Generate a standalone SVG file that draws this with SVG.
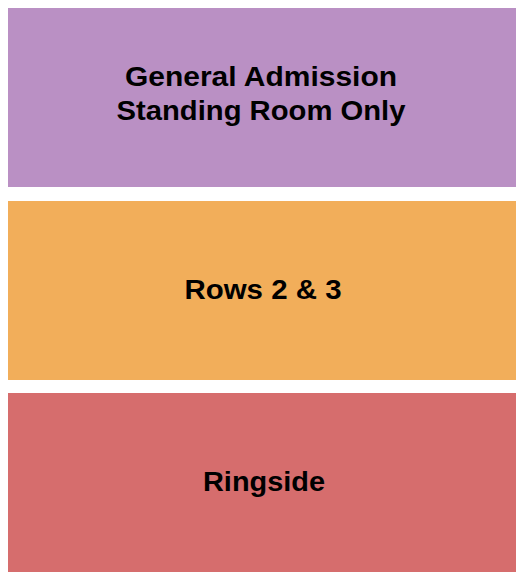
<svg xmlns="http://www.w3.org/2000/svg" width="525" height="580" viewBox="0 0 525 580">
<style>
.lbl{font-family:"Liberation Sans",Arial,sans-serif;font-weight:bold;font-size:27.5px;fill:#000;text-anchor:middle}
</style>
<rect width="525" height="580" fill="#fff"/>
<g id="ga">
<rect x="8" y="8" width="508" height="179" fill="#BA90C4"/>
<text class="lbl" x="261" y="86" textLength="272" lengthAdjust="spacingAndGlyphs">General Admission</text>
<text class="lbl" x="261" y="120" textLength="289" lengthAdjust="spacingAndGlyphs">Standing Room Only</text>
</g>
<g id="rows">
<rect x="8" y="201" width="508" height="179" fill="#F2AE5A"/>
<text class="lbl" x="263" y="299" textLength="157" lengthAdjust="spacingAndGlyphs">Rows 2 &amp; 3</text>
</g>
<g id="ringside">
<rect x="8" y="393" width="508" height="179" fill="#D66D6D"/>
<text class="lbl" x="264" y="491" textLength="122" lengthAdjust="spacingAndGlyphs">Ringside</text>
</g>
<g id="connectors"/>
</svg>
